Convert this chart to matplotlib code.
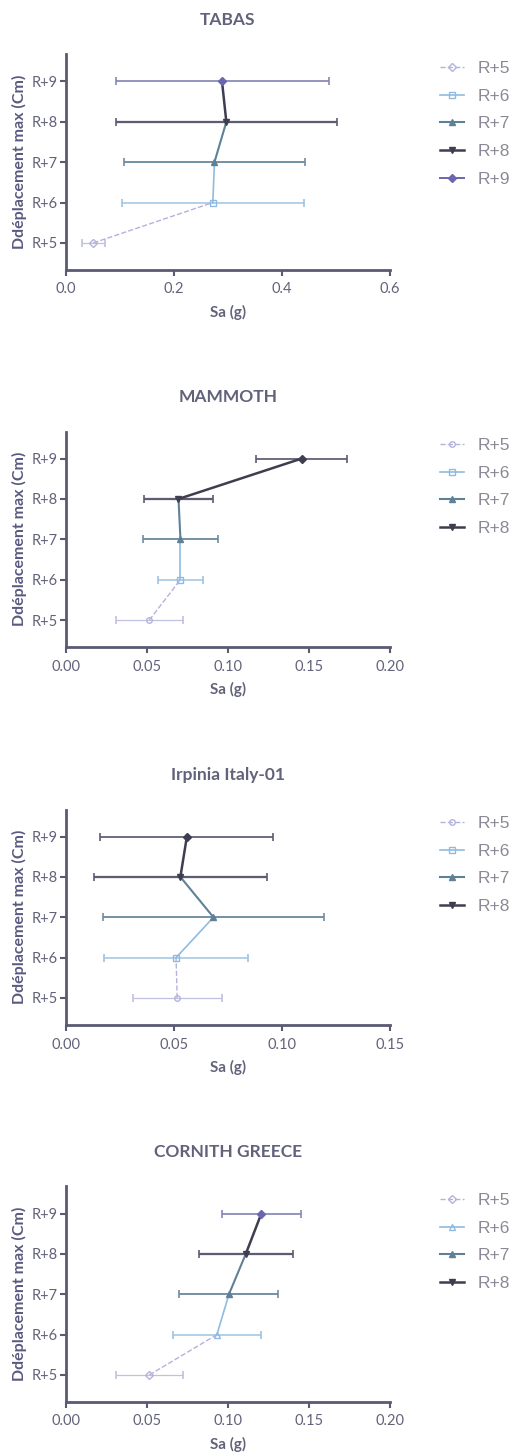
import matplotlib
matplotlib.use('Agg')
import matplotlib.pyplot as plt

plt.rcParams['font.family'] = ['Lato', 'DejaVu Sans']

levels = [5, 6, 7, 8, 9]
level_labels = ['R+5', 'R+6', 'R+7', 'R+8', 'R+9']

titles = ['TABAS', 'MAMMOTH', 'Irpinia Italy-01', 'CORNITH GREECE']
xmax = [0.6, 0.2, 0.15, 0.2]
xticks = [[0.0, 0.2, 0.4, 0.6],
          [0.00, 0.05, 0.10, 0.15, 0.20],
          [0.00, 0.05, 0.10, 0.15],
          [0.00, 0.05, 0.10, 0.15, 0.20]]
xfmt = ['{:.1f}', '{:.2f}', '{:.2f}', '{:.2f}']
n_legend = [5, 4, 4, 4]

# mean Sa (g) and error per level R+5 .. R+9
tabas_sa = [0.051, 0.272, 0.275, 0.297, 0.289]
tabas_err = [0.021, 0.168, 0.167, 0.205, 0.197]
mammoth_sa = [0.0515, 0.0707, 0.0707, 0.0695, 0.1454]
mammoth_err = [0.0206, 0.0137, 0.023, 0.021, 0.028]
irpinia_sa = [0.0515, 0.051, 0.0683, 0.053, 0.056]
irpinia_err = [0.0206, 0.0334, 0.051, 0.040, 0.040]
cornith_sa = [0.0515, 0.0932, 0.1006, 0.111, 0.1206]
cornith_err = [0.0205, 0.027, 0.0305, 0.029, 0.0245]

all_sa = [tabas_sa, mammoth_sa, irpinia_sa, cornith_sa]
all_err = [tabas_err, mammoth_err, irpinia_err, cornith_err]

colors = ['#b3b3dc', '#8fbbe2', '#5f8198', '#3e3e50', '#6a66b0']
err_colors = ['#c0c0e0', '#9cc2e4', '#6f8ca0', '#5c5c72', '#8886b8']
markers_all = [['D', 's', '^', 'v', 'D'],
               ['o', 's', '^', 'v', 'D'],
               ['o', 's', '^', 'v', 'D'],
               ['D', '^', '^', 'v', 'D']]
lstyles = ['--', '-', '-', '-', '-']
lwidths = [1.0, 1.2, 1.5, 1.8, 1.4]

axis_col = '#5a5a72'
text_col = '#62627a'

fig = plt.figure(figsize=(5.14, 14.56), dpi=100)
bottoms = [0.8146, 0.5556, 0.2960, 0.0371]

for p in range(4):
    ax = fig.add_axes([0.128, bottoms[p], 0.631, 0.148])
    sa = all_sa[p]
    err = all_err[p]
    for i in range(5):
        c = colors[i]
        ec = err_colors[i]
        if n_legend[p] == 4 and i == 4 and p < 3:
            c = colors[3]
            ec = err_colors[3]
        ax.errorbar(sa[i], levels[i], xerr=err[i], fmt='none', ecolor=ec,
                    elinewidth=lwidths[i] * 0.9, capsize=3, capthick=1.2,
                    linestyle=lstyles[i], zorder=2)
        if i < 4:
            xs = [sa[i], sa[i + 1]]
            ys = [levels[i], levels[i + 1]]
        else:
            xs = [sa[i]]
            ys = [levels[i]]
        lab = level_labels[i] if i < n_legend[p] else None
        mk = markers_all[p][i]
        ms = 4.0 if mk in ('D', 'o', 's') else 5.0
        hollow = i < 2
        ax.plot(xs, ys, color=c, linestyle=lstyles[i], linewidth=lwidths[i],
                marker=mk, markevery=[0], markersize=ms,
                markerfacecolor='none' if hollow else c,
                markeredgecolor=c, markeredgewidth=1.0, label=lab, zorder=3)

    ax.set_xlim(0, xmax[p])
    ax.set_ylim(4.33, 9.67)
    ax.set_xticks(xticks[p])
    ax.set_xticklabels([xfmt[p].format(v) for v in xticks[p]])
    ax.set_yticks(levels)
    ax.set_yticklabels(level_labels)
    for s in ['top', 'right']:
        ax.spines[s].set_visible(False)
    for s in ['left', 'bottom']:
        ax.spines[s].set_color(axis_col)
        ax.spines[s].set_linewidth(2.0)
    ax.tick_params(axis='both', colors=axis_col, width=1.5, length=4,
                   labelsize=10.5, labelcolor=text_col)
    ax.tick_params(axis='x', pad=5)
    ax.tick_params(axis='y', pad=2)
    ax.set_title(titles[p], fontsize=12.5, fontweight='bold', color=text_col, pad=21)
    ax.set_xlabel('Sa (g)', fontsize=11, fontweight='bold', color=text_col, labelpad=6)
    ax.set_ylabel('Ddéplacement max (Cm)', fontsize=11.5, fontweight='bold',
                  color='#5a5a80', labelpad=3)
    leg = ax.legend(loc='upper left', bbox_to_anchor=(1.155, 0.97), frameon=False,
                    borderaxespad=0, borderpad=0, handlelength=1.35,
                    handletextpad=0.8, labelspacing=0.72,
                    prop={'family': 'Liberation Sans', 'size': 12.5})
    for t in leg.get_texts():
        t.set_color('#8a8a96')

fig.savefig('out.png', dpi=100)
